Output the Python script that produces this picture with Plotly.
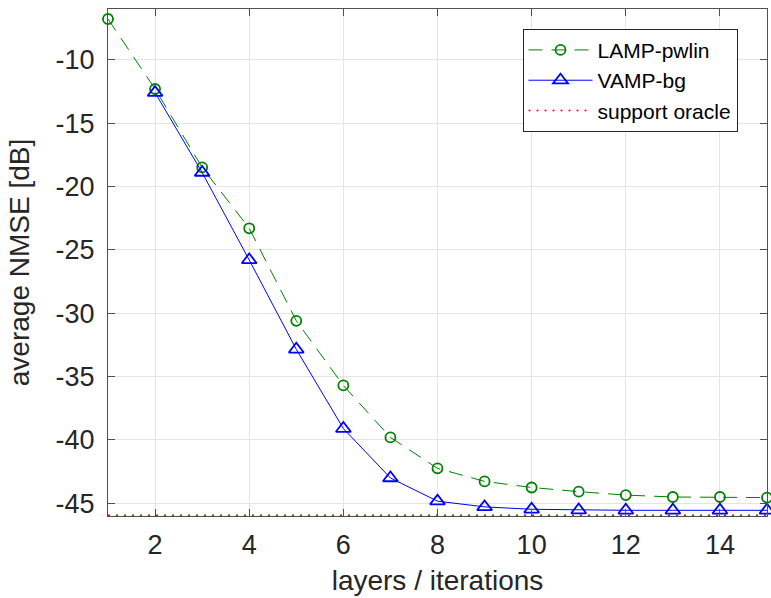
import plotly.graph_objects as go

layers = list(range(1, 16))
lamp_pwlin = [-6.79, -12.31, -18.5, -23.3, -30.6, -35.7, -39.8, -42.24, -43.27, -43.75, -44.08, -44.35, -44.5, -44.5, -44.55]
vamp_bg_x = list(range(2, 16))
vamp_bg = [-12.6, -18.9, -25.8, -32.85, -39.1, -43.0, -44.83, -45.28, -45.47, -45.53, -45.55, -45.55, -45.55, -45.55]
oracle_x = [1, 15]
oracle = [-45.95, -45.95]
x_ticks = [2, 4, 6, 8, 10, 12, 14]
y_ticks = [-45, -40, -35, -30, -25, -20, -15, -10]

FONT = "Liberation Sans"
TXT = "rgb(38,38,38)"
fig = go.Figure()
fig.add_trace(go.Scatter(
    x=layers, y=lamp_pwlin, name="LAMP-pwlin", mode="lines+markers",
    line=dict(color="rgb(0,128,0)", width=1, dash="14px,9px"),
    marker=dict(symbol="circle-open", size=10, color="rgb(0,128,0)", line=dict(width=1.8)),
    cliponaxis=False,
))
fig.add_trace(go.Scatter(
    x=vamp_bg_x, y=vamp_bg, name="VAMP-bg", mode="lines+markers",
    line=dict(color="rgb(0,0,255)", width=1),
    marker=dict(symbol="triangle-up-open", size=13, color="rgb(0,0,255)", line=dict(width=1.8)),
    cliponaxis=False,
))
fig.add_trace(go.Scatter(
    x=oracle_x, y=oracle, name="support oracle", mode="lines",
    line=dict(color="rgb(255,0,0)", width=1.6, dash="2px,6px"),
))

axis_common = dict(
    showgrid=True, gridcolor="rgb(228,228,228)", gridwidth=1,
    showline=True, linecolor="rgb(80,80,80)", linewidth=1, mirror="allticks",
    ticks="inside", ticklen=7, tickcolor="rgb(80,80,80)", tickwidth=1,
    zeroline=False, automargin=False,
    tickfont=dict(family=FONT, size=27, color=TXT),
)
fig.update_xaxes(range=[1, 15], tickvals=x_ticks, ticklabelstandoff=5,
                 title=dict(text="layers / iterations", font=dict(family=FONT, size=28, color=TXT), standoff=10),
                 **axis_common)
fig.update_yaxes(range=[-46, -6], tickvals=y_ticks, ticktext=[str(v) for v in y_ticks], ticklabelstandoff=7,
                 title=dict(text="average NMSE [dB]", font=dict(family=FONT, size=28, color=TXT), standoff=17),
                 **axis_common)

fig.update_layout(
    width=771, height=598,
    margin=dict(l=108, r=4, t=9, b=82),
    plot_bgcolor="white", paper_bgcolor="white",
    font=dict(family=FONT, color=TXT),
    legend=dict(
        x=0.629, y=0.961, xanchor="left", yanchor="top",
        bgcolor="white", bordercolor="rgb(38,38,38)", borderwidth=1,
        font=dict(family=FONT, size=21, color="rgb(0,0,0)"),
        itemwidth=64,
    ),
)
fig.write_html("out.html", config={"displayModeBar": False},
               post_script="document.body.style.margin='0';document.body.style.overflow='hidden';")
